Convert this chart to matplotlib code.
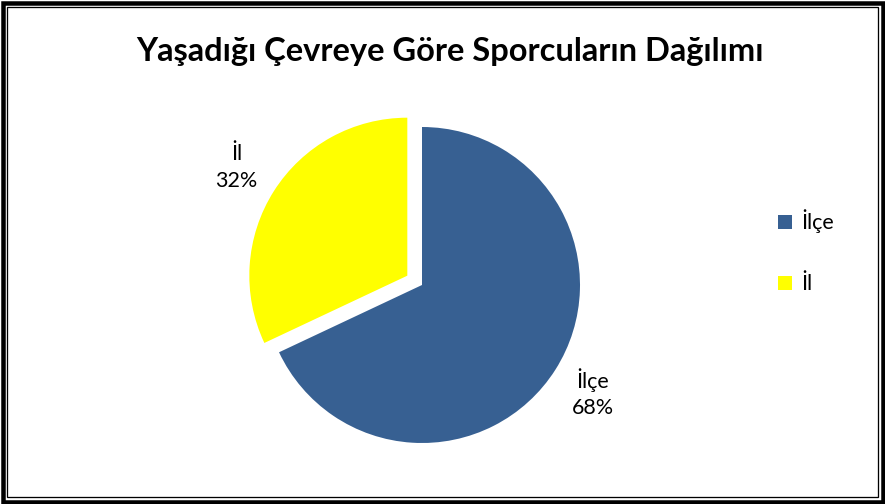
import matplotlib.pyplot as plt
from matplotlib.patches import Rectangle

categories = ['İlçe', 'İl']
shares = [68, 32]
colors = ['#376092', '#FFFF00']
title = 'Yaşadığı Çevreye Göre Sporcuların Dağılımı'

plt.rcParams['font.family'] = ['Lato', 'DejaVu Sans']

W, H = 885, 504
fig = plt.figure(figsize=(W / 100, H / 100), dpi=100)

# pie centre (422, 285) px, radius 158 px
cx, cy, r = 422, 285, 158
half = 1.3 * r
ax = fig.add_axes([(cx - half) / W, (H - cy - half) / H, 2 * half / W, 2 * half / H])
ax.axis('off')

labels = [f'{c}\n{v}%' for c, v in zip(categories, shares)]
wedges, texts = ax.pie(shares, labels=labels, colors=colors, startangle=90,
                       counterclock=False, explode=[0, 0.11], labeldistance=1.28,
                       textprops={'fontsize': 15.5, 'linespacing': 1.4},
                       wedgeprops={'linewidth': 0}, frame=False)
for t in texts:
    t.set_ha('center')
    t.set_va('center')
ax.set_xlim(-1.3, 1.3)
ax.set_ylim(-1.3, 1.3)

fig.text(450 / W, (H - 51) / H, title, ha='center', va='center',
         fontsize=23.5, fontweight='bold')

leg = fig.legend(wedges, categories, loc='center left',
                 bbox_to_anchor=(759 / W, (H - 252) / H), frameon=False,
                 fontsize=15.5, handlelength=0.62, handleheight=0.62,
                 handletextpad=0.45, labelspacing=1.9)

# double border
px = lambda v: v * 0.72
fig.patches.append(Rectangle((2.5 / W, 2.5 / H), 1 - 5 / W, 1 - 5 / H,
                             transform=fig.transFigure, fill=False,
                             edgecolor='black', linewidth=px(4.5)))
fig.patches.append(Rectangle((7 / W, 7.5 / H), 1 - 14 / W, 1 - 14.5 / H,
                             transform=fig.transFigure, fill=False,
                             edgecolor='black', linewidth=px(1.3)))

fig.savefig('out.png', dpi=100)
